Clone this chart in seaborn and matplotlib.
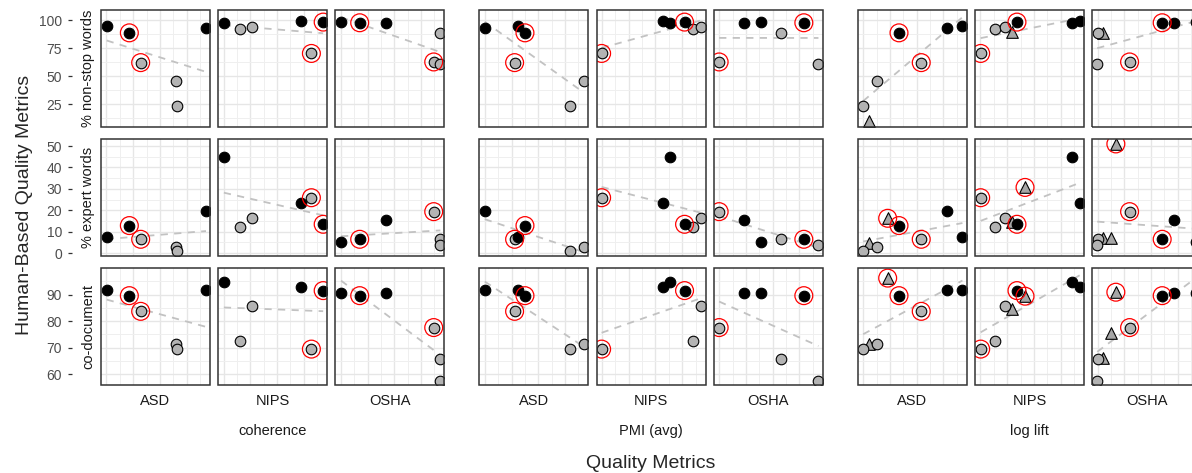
import numpy as np
import pandas as pd
import matplotlib
matplotlib.use("Agg")
import matplotlib.pyplot as plt
from matplotlib.patches import Rectangle
import seaborn as sns

nan = np.nan

# ------------------------------
# Data (x = relative position of each model on the metric's scale)
# ------------------------------
datasets = ["ASD", "NIPS", "OSHA"]
x_metrics = ["coherence", "PMI (avg)", "log lift"]
y_metrics = ["% non-stop words", "% expert words", "co-document"]

# ASD
asd_kind = ["black", "black", "grey", "grey", "grey", "black", "tri", "tri"]
asd_marked = [0, 1, 1, 0, 0, 0, 0, 1]
asd_nonstop = [94.3, 88.6, 62.0, 45.9, 23.6, 92.8, 10.1, nan]
asd_expert = [7.5, 12.9, 6.5, 3.1, 1.1, 19.6, 4.6, 16.3]
asd_codoc = [91.9, 89.6, 83.7, 71.6, 69.5, 91.9, 71.6, 96.2]
asd_coherence = [0.052, 0.26, 0.364, 0.685, 0.70, 0.963, nan, nan]
asd_pmi = [0.357, 0.418, 0.323, 0.957, 0.832, 0.049, nan, nan]
asd_loglift = [0.96, 0.378, 0.582, 0.177, 0.049, 0.817, 0.10, 0.274]

# NIPS
nips_kind = ["black", "grey", "grey", "black", "black", "grey", "tri", "tri"]
nips_marked = [0, 0, 0, 0, 1, 1, 0, 1]
nips_nonstop = [97.6, 91.7, 94.0, 98.8, 98.2, 70.2, 89.6, nan]
nips_expert = [44.7, 12.4, 16.6, 23.6, 13.5, 25.9, 14.5, 30.7]
nips_codoc = [94.6, 72.6, 85.7, 92.7, 91.5, 69.5, 84.4, 89.4]
nips_coherence = [0.052, 0.20, 0.308, 0.76, 0.963, 0.855, nan, nan]
nips_pmi = [0.675, 0.88, 0.96, 0.607, 0.807, 0.046, nan, nan]
nips_loglift = [0.89, 0.18, 0.278, 0.96, 0.385, 0.052, 0.343, 0.459]

# OSHA
osha_kind = ["black", "black", "black", "grey", "grey", "grey", "tri", "tri", "tri"]
osha_marked = [0, 1, 0, 0, 1, 0, 0, 1, 0]
osha_nonstop = [97.9, 97.6, 97.0, 88.8, 62.6, 60.4, 88.1, nan, nan]
osha_expert = [5.4, 6.5, 15.5, 6.5, 19.4, 3.9, 7.0, 51.0, 7.0]
osha_codoc = [90.6, 89.6, 90.7, 65.6, 77.6, 57.5, 66.0, 90.9, 75.4]
osha_coherence = [0.052, 0.223, 0.462, 0.963, 0.902, 0.957, nan, nan, nan]
osha_pmi = [0.43, 0.826, 0.28, 0.62, 0.049, 0.96, nan, nan, nan]
osha_loglift = [0.955, 0.642, 0.749, 0.052, 0.343, 0.046, 0.095, 0.217, 0.168]

y_limits = [(4.5, 109), (-1.3, 53.3), (56, 100)]
y_major = [[25, 50, 75, 100], [0, 10, 20, 30, 40, 50], [60, 70, 80, 90]]
y_minor = [[12.5, 37.5, 62.5, 87.5], [5, 15, 25, 35, 45], [65, 75, 85, 95]]


def build(name, kind, marked, ys, xs):
    recs = []
    for i in range(len(kind)):
        for xm, xv in zip(x_metrics, xs):
            for ym, yv in zip(y_metrics, ys):
                recs.append(dict(dataset=name, kind=kind[i], marked=marked[i],
                                 x_metric=xm, x=xv[i], y_metric=ym, y=yv[i]))
    return recs


df = pd.DataFrame(
    build("ASD", asd_kind, asd_marked, [asd_nonstop, asd_expert, asd_codoc],
          [asd_coherence, asd_pmi, asd_loglift])
    + build("NIPS", nips_kind, nips_marked, [nips_nonstop, nips_expert, nips_codoc],
            [nips_coherence, nips_pmi, nips_loglift])
    + build("OSHA", osha_kind, osha_marked, [osha_nonstop, osha_expert, osha_codoc],
            [osha_coherence, osha_pmi, osha_loglift])
).dropna(subset=["x", "y"])

# ------------------------------
# Layout
# ------------------------------
sns.set_style("white")
plt.rcParams["font.family"] = ["Liberation Sans", "DejaVu Sans"]

W, H = 1192, 473
left0, pw, gap, ggap = 101, 109, 8.2, 35
row_top = [10, 139, 268]
ph = 117

fig = plt.figure(figsize=(W / 100, H / 100), dpi=100)


def col_left(g, d):
    return left0 + g * (3 * pw + 2 * gap + ggap) + d * (pw + gap)


xgrid = np.arange(0.05, 1.0, 0.1225)

for r, ym in enumerate(y_metrics):
    for g, xm in enumerate(x_metrics):
        for d, ds in enumerate(datasets):
            x0 = col_left(g, d)
            ax = fig.add_axes([x0 / W, 1 - (row_top[r] + ph) / H, pw / W, ph / H])
            sub = df[(df.dataset == ds) & (df.x_metric == xm) & (df.y_metric == ym)]

            sns.regplot(data=sub, x="x", y="y", scatter=False, ci=None, truncate=True,
                        ax=ax, color="#c2c2c2",
                        line_kws=dict(lw=1.3, ls=(0, (4, 3.5)), zorder=2))
            styles = [("tri", dict(marker="^", s=70, color="#a6a6a6", edgecolor="black", linewidth=0.8)),
                      ("grey", dict(marker="o", s=58, color="#b3b3b3", edgecolor="black", linewidth=0.8)),
                      ("black", dict(marker="o", s=58, color="black", edgecolor="black", linewidth=0.8))]
            for kind, kw in styles:
                part = sub[sub.kind == kind]
                if len(part):
                    sns.scatterplot(data=part, x="x", y="y", ax=ax, zorder=3, **kw)
            marked = sub[sub.marked == 1]
            if len(marked):
                sns.scatterplot(data=marked, x="x", y="y", ax=ax, s=165, marker="o",
                                facecolor="none", edgecolor="#ff0000", linewidth=0.9, zorder=4)

            ax.set_xlim(0, 1)
            ax.set_ylim(*y_limits[r])
            ax.set_xlabel("")
            ax.set_ylabel("")
            ax.set_xticks(xgrid[::2])
            ax.set_xticks(xgrid[1::2], minor=True)
            ax.set_yticks(y_major[r])
            ax.set_yticks(y_minor[r], minor=True)
            ax.grid(which="major", color="#e6e6e6", lw=1.0)
            ax.grid(which="minor", color="#efefef", lw=0.7)
            ax.set_axisbelow(True)
            ax.tick_params(which="both", bottom=False, labelbottom=False, left=False, labelleft=False)
            for sp in ax.spines.values():
                sp.set_visible(False)
            ax.add_patch(Rectangle((0, 0), 1, 1, transform=ax.transAxes, fill=False,
                                   ec="#333333", lw=1.1, clip_on=False, zorder=5))

            if g == 0 and d == 0:
                ax.spines["left"].set_position(("outward", 29 * 0.72))
                ax.tick_params(axis="y", which="major", left=True, labelleft=True,
                               length=4 * 0.72, width=0.9, color="#333333",
                               labelsize=10, labelcolor="#4d4d4d", pad=4.3)
                fig.text(88 / W, 1 - (row_top[r] + ph / 2) / H, ym, rotation=90,
                         ha="center", va="center", fontsize=10.5, color="#1a1a1a")

            if r == 2:
                fig.text((x0 + pw / 2) / W, 1 - 400.7 / H, ds, ha="center", va="center",
                         fontsize=10.5, color="#1a1a1a")
        if r == 2:
            gc = col_left(g, 1) + pw / 2
            fig.text(gc / W, 1 - 431 / H, xm, ha="center", va="center",
                     fontsize=10.5, color="#1a1a1a")

fig.text(651 / W, 1 - 463 / H, "Quality Metrics", ha="center", va="center", fontsize=14)
fig.text(25 / W, 1 - 205 / H, "Human-Based Quality Metrics", rotation=90,
         ha="center", va="center", fontsize=14)

fig.savefig("out.png", dpi=100)
